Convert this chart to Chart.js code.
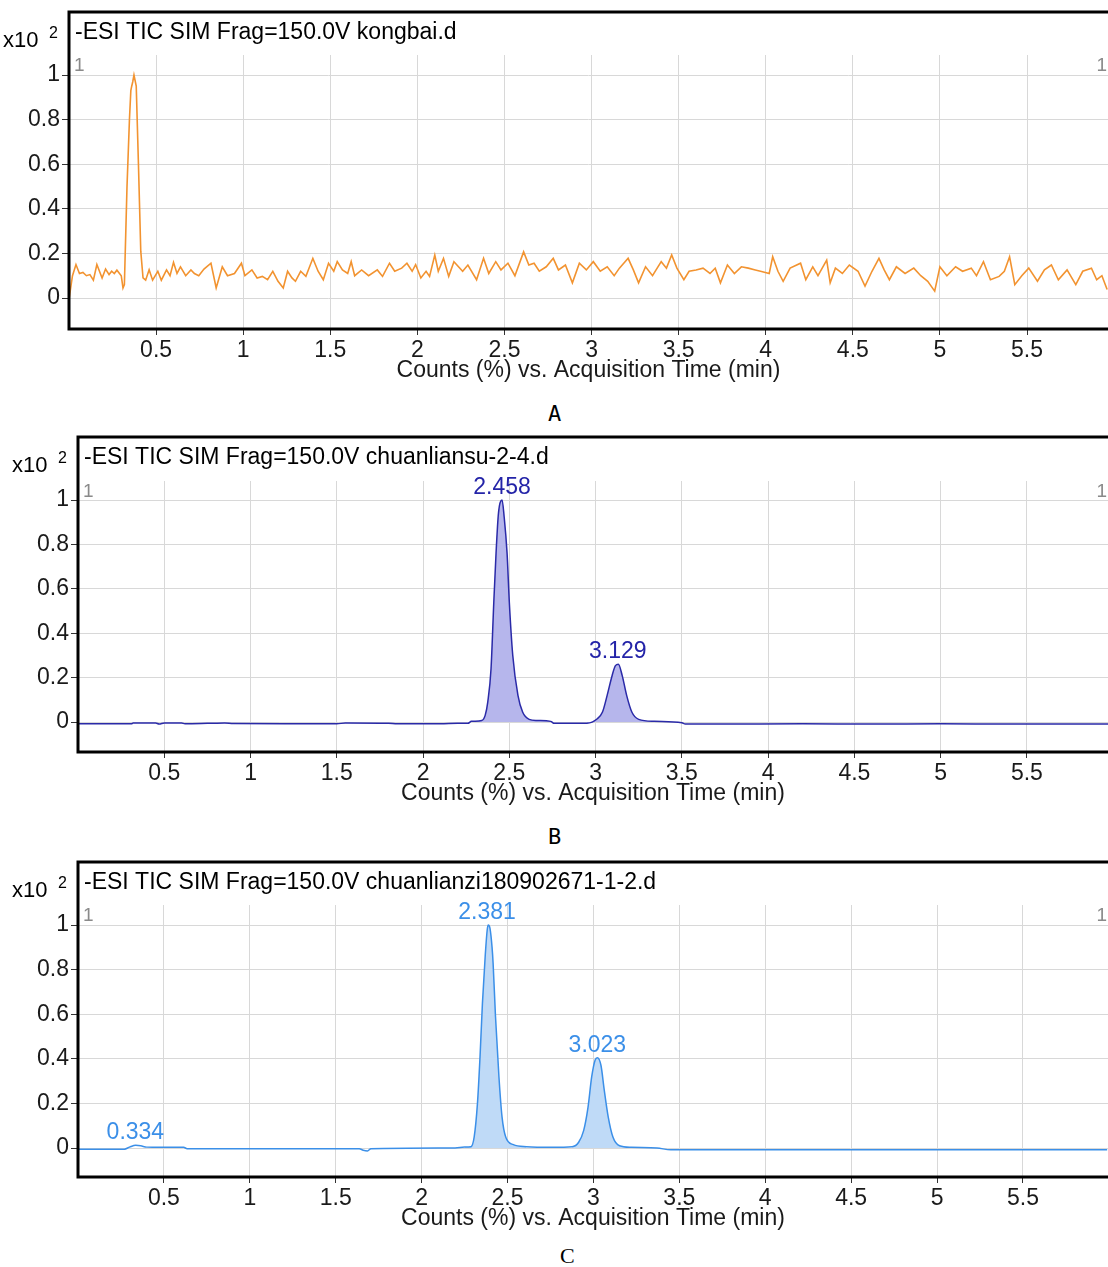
<!DOCTYPE html>
<html>
<head>
<meta charset="utf-8">
<script src="https://cdn.jsdelivr.net/npm/chart.js@4.4.1/dist/chart.umd.min.js"></script>
<style>
  body { margin: 0; background: #fff; width: 1108px; height: 1267px; overflow: hidden; position: relative; }
  canvas { position: absolute; }
  .cap { position: absolute; font-size: 22px; line-height: 22px; color: #000; }
</style>
</head>
<body>
<canvas id="chartA" width="1117" height="389" style="left:-9px;top:0px"></canvas>
<div class="cap" style="left:548px;top:403px;font-family:'DejaVu Sans Mono'">A</div>
<canvas id="chartB" width="1108" height="392" style="left:0px;top:420px"></canvas>
<div class="cap" style="left:548px;top:826px;font-family:'DejaVu Sans Mono'">B</div>
<canvas id="chartC" width="1108" height="392" style="left:0px;top:845px"></canvas>
<div class="cap" style="left:560px;top:1245px;font-family:'Liberation Serif'">C</div>

<script>
// axis ticks shared by all three runs (counts are x10^2)
const xTicks = [0.5, 1, 1.5, 2, 2.5, 3, 3.5, 4, 4.5, 5, 5.5];
const xTickLabels = ['0.5', '1', '1.5', '2', '2.5', '3', '3.5', '4', '4.5', '5', '5.5'];
const yTicks = [0, 0.2, 0.4, 0.6, 0.8, 1];
const yTickLabels = ['0', '0.2', '0.4', '0.6', '0.8', '1'];
const xTitle = 'Counts (%) vs. Acquisition Time (min)';

// A - blank (kongbai)
const titleA = '-ESI TIC SIM Frag=150.0V kongbai.d';
const timeA = [0.00, 0.02, 0.04, 0.06, 0.08, 0.10, 0.12, 0.14, 0.16, 0.19, 0.21, 0.23, 0.245, 0.26, 0.275, 0.30,
  0.31, 0.318, 0.333, 0.347, 0.355, 0.360, 0.366, 0.373, 0.386, 0.398, 0.412, 0.425, 0.44, 0.46, 0.48, 0.51,
  0.53, 0.56, 0.58, 0.60, 0.62, 0.64, 0.67, 0.70, 0.72, 0.745, 0.775, 0.815, 0.845, 0.88, 0.91, 0.95, 0.99,
  1.01, 1.05, 1.08, 1.11, 1.14, 1.17, 1.20, 1.23, 1.255, 1.28, 1.30, 1.33, 1.36, 1.40, 1.43, 1.46, 1.49, 1.52,
  1.54, 1.57, 1.60, 1.62, 1.64, 1.68, 1.72, 1.77, 1.80, 1.84, 1.87, 1.91, 1.94, 1.97, 1.99, 2.02, 2.05, 2.07,
  2.10, 2.12, 2.15, 2.18, 2.21, 2.26, 2.29, 2.34, 2.38, 2.41, 2.45, 2.48, 2.52, 2.56, 2.61, 2.64, 2.67, 2.70,
  2.74, 2.78, 2.81, 2.85, 2.89, 2.93, 2.97, 3.01, 3.05, 3.09, 3.13, 3.16, 3.21, 3.24, 3.27, 3.31, 3.35, 3.40,
  3.43, 3.46, 3.49, 3.53, 3.56, 3.60, 3.64, 3.68, 3.71, 3.74, 3.78, 3.82, 3.86, 3.90, 3.94, 3.97, 4.02, 4.04,
  4.07, 4.10, 4.14, 4.20, 4.23, 4.27, 4.30, 4.35, 4.37, 4.40, 4.44, 4.48, 4.53, 4.57, 4.61, 4.65, 4.68, 4.71,
  4.75, 4.80, 4.85, 4.89, 4.93, 4.97, 5.00, 5.04, 5.09, 5.13, 5.18, 5.21, 5.25, 5.29, 5.34, 5.37, 5.40, 5.43,
  5.47, 5.51, 5.56, 5.60, 5.64, 5.68, 5.73, 5.78, 5.82, 5.87, 5.90, 5.93, 5.96];
const countA = [-0.005, 0.10, 0.15, 0.11, 0.115, 0.10, 0.105, 0.08, 0.15, 0.09, 0.13, 0.105, 0.12, 0.11, 0.125, 0.10,
  0.045, 0.06, 0.50, 0.80, 0.93, 0.95, 0.97, 1.00, 0.95, 0.62, 0.21, 0.09, 0.08, 0.127, 0.08, 0.12,
  0.08, 0.126, 0.10, 0.16, 0.11, 0.14, 0.10, 0.126, 0.11, 0.10, 0.13, 0.156, 0.045, 0.14, 0.10, 0.11, 0.156,
  0.10, 0.126, 0.09, 0.097, 0.082, 0.12, 0.075, 0.045, 0.12, 0.09, 0.075, 0.12, 0.097, 0.178, 0.12, 0.082, 0.156, 0.12,
  0.163, 0.126, 0.11, 0.163, 0.10, 0.126, 0.10, 0.126, 0.097, 0.156, 0.12, 0.134, 0.156, 0.12, 0.15, 0.09, 0.12, 0.097,
  0.193, 0.12, 0.178, 0.097, 0.163, 0.12, 0.148, 0.082, 0.178, 0.11, 0.163, 0.126, 0.156, 0.10, 0.207, 0.148, 0.156, 0.12,
  0.14, 0.178, 0.126, 0.148, 0.068, 0.156, 0.126, 0.163, 0.12, 0.14, 0.10, 0.134, 0.178, 0.126, 0.068, 0.14, 0.10, 0.163,
  0.134, 0.193, 0.134, 0.082, 0.12, 0.126, 0.134, 0.11, 0.134, 0.068, 0.148, 0.11, 0.14, 0.134, 0.126, 0.12, 0.11, 0.185,
  0.12, 0.075, 0.134, 0.156, 0.082, 0.14, 0.10, 0.17, 0.068, 0.134, 0.11, 0.148, 0.12, 0.053, 0.12, 0.178, 0.126, 0.082,
  0.14, 0.11, 0.134, 0.10, 0.075, 0.031, 0.14, 0.10, 0.14, 0.12, 0.134, 0.10, 0.163, 0.082, 0.097, 0.12, 0.185, 0.06,
  0.10, 0.134, 0.075, 0.126, 0.148, 0.082, 0.126, 0.06, 0.12, 0.134, 0.082, 0.10, 0.038];

// B - chuanliansu standard
const titleB = '-ESI TIC SIM Frag=150.0V chuanliansu-2-4.d';
const timeB = [0.00, 0.31, 0.32, 0.45, 0.47, 0.50, 0.60, 0.62, 0.75, 0.85, 0.90, 1.20, 1.50, 1.55, 1.80, 1.85,
  2.10, 2.20, 2.26, 2.28, 2.34, 2.36, 2.375, 2.394, 2.41, 2.423, 2.437, 2.458, 2.47, 2.487, 2.50, 2.52, 2.55,
  2.577, 2.615, 2.66, 2.74, 2.76, 2.95, 3.01, 3.04, 3.067, 3.096, 3.115, 3.132, 3.154, 3.18, 3.21, 3.25, 3.34,
  3.50, 3.52, 3.70, 4.20, 4.60, 5.00, 5.40, 5.97];
const countB = [-0.008, -0.008, -0.004, -0.004, -0.009, -0.004, -0.004, -0.008, -0.006, -0.004, -0.007, -0.008, -0.008, -0.004, -0.005, -0.008,
  -0.008, -0.005, -0.006, 0.003, 0.007, 0.03, 0.09, 0.24, 0.54, 0.76, 0.94, 1.00, 0.925, 0.76, 0.54, 0.30, 0.12,
  0.045, 0.012, 0.007, 0.003, -0.006, -0.005, 0.015, 0.045, 0.12, 0.21, 0.254, 0.26, 0.21, 0.12, 0.045, 0.012, 0.003,
  -0.003, -0.009, -0.009, -0.008, -0.009, -0.008, -0.009, -0.009];
const peakTimeB = [2.458, 3.129];
const peakHeightB = [1.00, 0.26];
const fillRangeB = [[2.26, 2.76], [2.95, 3.40]];

// C - chuanlianzi sample
const titleC = '-ESI TIC SIM Frag=150.0V chuanlianzi180902671-1-2.d';
const timeC = [0.00, 0.27, 0.30, 0.336, 0.365, 0.40, 0.48, 0.615, 0.635, 1.637, 1.66, 1.685, 1.705, 2.195,
  2.25, 2.287, 2.306, 2.325, 2.34, 2.354, 2.37, 2.382, 2.388, 2.398, 2.41, 2.416, 2.43, 2.45, 2.468, 2.49,
  2.534, 2.61, 2.76, 2.876, 2.914, 2.943, 2.968, 2.99, 3.01, 3.023, 3.044, 3.063, 3.086, 3.114, 3.152, 3.22,
  3.37, 3.45, 5.99];
const countC = [-0.005, -0.005, 0.004, 0.012, 0.010, 0.004, 0.003, 0.003, -0.003, -0.003, -0.010, -0.013, -0.003, 0.0,
  0.004, 0.006, 0.05, 0.20, 0.41, 0.65, 0.86, 0.98, 1.00, 0.985, 0.90, 0.83, 0.59, 0.32, 0.14, 0.048,
  0.015, 0.006, 0.003, 0.006, 0.026, 0.078, 0.18, 0.32, 0.395, 0.405, 0.37, 0.26, 0.14, 0.048, 0.01, 0.003,
  0.0, -0.008, -0.008];
const peakTimeC = [0.334, 2.381, 3.023];
const peakHeightC = [0.012, 1.00, 0.405];
const fillRangeC = [[2.25, 2.61], [2.876, 3.22]];

const FONT = '"Liberation Sans", Arial, sans-serif';

// box, run title, x10^2 and peak labels drawn on top of the chart
const framePlugin = {
  id: 'frame',
  afterDraw(chart, args, o) {
    const { ctx, chartArea: a, scales: { x, y } } = chart;
    ctx.save();
    ctx.strokeStyle = '#000';
    ctx.lineWidth = 3;
    ctx.beginPath();
    ctx.moveTo(a.right + 5, o.boxTop);
    ctx.lineTo(a.left, o.boxTop);
    ctx.lineTo(a.left, a.bottom);
    ctx.lineTo(a.right + 5, a.bottom);
    ctx.stroke();

    ctx.fillStyle = '#000';
    ctx.textBaseline = 'middle';
    ctx.textAlign = 'left';
    ctx.font = '23px ' + FONT;
    ctx.fillText(o.title, a.left + 6, o.boxTop + 21);
    ctx.font = '22px ' + FONT;
    ctx.fillText('x10', a.left - 66, o.boxTop + 29);
    ctx.font = '16px ' + FONT;
    ctx.fillText('2', a.left - 20, o.boxTop + 22);

    ctx.fillStyle = '#8a8a8a';
    ctx.font = '19px ' + FONT;
    ctx.fillText('1', a.left + 5, a.top + 11);
    ctx.textAlign = 'right';
    ctx.fillText('1', a.right - 1, a.top + 11);

    ctx.fillStyle = o.color;
    ctx.font = '23px ' + FONT;
    ctx.textAlign = 'center';
    ctx.textBaseline = 'bottom';
    o.peakTime.forEach((t, i) => {
      ctx.fillText(t.toFixed(3), x.getPixelForValue(t), y.getPixelForValue(o.peakHeight[i]) - 1);
    });
    ctx.restore();
  }
};

function makeChart(id, p) {
  const pts = p.time.map((t, i) => ({ x: t, y: p.count[i] }));
  const datasets = [{
    data: pts,
    borderColor: p.color,
    borderWidth: p.lineWidth,
    pointRadius: 0,
    tension: 0,
    cubicInterpolationMode: p.smooth ? 'monotone' : 'default',
    fill: false,
    order: 1
  }];
  (p.fillRange || []).forEach(r => {
    datasets.push({
      data: pts.filter(d => d.x >= r[0] && d.x <= r[1]),
      borderWidth: 0,
      borderColor: 'rgba(0,0,0,0)',
      backgroundColor: p.fillColor,
      pointRadius: 0,
      cubicInterpolationMode: 'monotone',
      fill: 'origin',
      order: 2
    });
  });

  return new Chart(document.getElementById(id), {
    type: 'line',
    data: { datasets },
    plugins: [framePlugin],
    options: {
      responsive: false,
      animation: false,
      devicePixelRatio: 1,
      layout: { padding: { top: p.padTop, left: 0, right: 0, bottom: 0 } },
      plugins: {
        legend: { display: false },
        tooltip: { enabled: false },
        frame: { boxTop: p.boxTop, title: p.title, color: p.labelColor, peakTime: p.peakTime || [], peakHeight: p.peakHeight || [] }
      },
      scales: {
        x: {
          type: 'linear',
          min: 0,
          max: p.xMax,
          afterBuildTicks: s => { s.ticks = xTicks.map(v => ({ value: v })); },
          afterFit: s => { s.height = 60; },
          ticks: {
            callback: v => xTickLabels[xTicks.indexOf(v)],
            color: '#1a1a1a',
            font: { family: FONT, size: 23, lineHeight: 1.1 },
            padding: 3,
            maxRotation: 0,
            autoSkip: false
          },
          grid: { color: '#d8d8d8', lineWidth: 1, tickLength: 6, tickColor: '#333' },
          border: { display: false },
          title: { display: true, text: xTitle, color: '#1a1a1a', font: { family: FONT, size: 23, lineHeight: 1.1 }, padding: { top: 0, bottom: 6 } }
        },
        y: {
          min: p.yMin,
          max: p.yMax,
          afterBuildTicks: s => { s.ticks = yTicks.map(v => ({ value: v })); },
          afterFit: s => { s.width = 78; },
          ticks: {
            callback: v => yTickLabels[yTicks.indexOf(v)],
            color: '#1a1a1a',
            font: { family: FONT, size: 23 },
            padding: 2
          },
          grid: { color: '#d8d8d8', lineWidth: 1, tickLength: 7, tickColor: '#333' },
          border: { display: false }
        }
      }
    }
  });
}

makeChart('chartA', {
  time: timeA, count: countA, title: titleA, color: '#f29330', labelColor: '#f29330', lineWidth: 1.6,
  smooth: false, padTop: 55, boxTop: 12, xMax: 5.965, yMin: -0.139, yMax: 1.09
});
makeChart('chartB', {
  time: timeB, count: countB, title: titleB, color: '#2a2aa8', labelColor: '#2424a8', lineWidth: 1.5,
  fillColor: '#b6b6ec', fillRange: fillRangeB, peakTime: peakTimeB, peakHeight: peakHeightB,
  smooth: true, padTop: 61, boxTop: 17, xMax: 5.97, yMin: -0.135, yMax: 1.086
});
makeChart('chartC', {
  time: timeC, count: countC, title: titleC, color: '#3b8fe8', labelColor: '#3b8fe8', lineWidth: 1.5,
  fillColor: '#bfdaf7', fillRange: fillRangeC, peakTime: peakTimeC, peakHeight: peakHeightC,
  smooth: true, padTop: 60, boxTop: 17, xMax: 5.995, yMin: -0.13, yMax: 1.09
});
</script>
</body>
</html>
